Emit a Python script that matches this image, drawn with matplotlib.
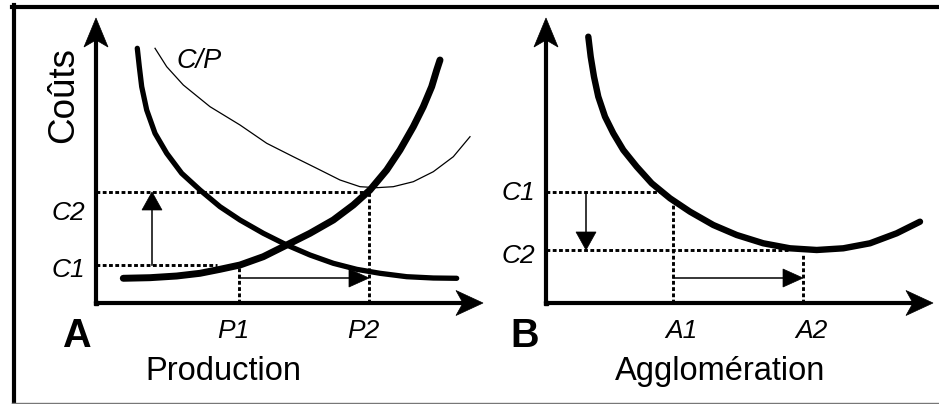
import matplotlib
matplotlib.use("Agg")
import matplotlib.pyplot as plt
from matplotlib.patches import Polygon
from matplotlib.lines import Line2D
import matplotlib.transforms as mtransforms

plt.rcParams['font.family'] = ['Liberation Sans', 'DejaVu Sans']

# ---------------- data (arbitrary units, axes span 0..100) ----------------
# Panel A : production
a_fall_x = [10.67, 11.19, 11.81, 13.10, 15.25, 18.27, 22.14, 26.87, 32.04, 37.21,
            43.23, 49.28, 55.30, 61.32, 67.36, 73.39, 80.28, 87.16, 93.20]
a_fall_y = [89.37, 82.91, 75.90, 67.72, 59.54, 52.53, 45.51, 39.65, 33.79, 29.12,
            24.46, 20.35, 16.84, 13.93, 11.82, 10.42, 9.23, 8.77, 8.67]
a_rise_x = [7.05, 13.95, 20.85, 26.87, 32.04, 37.21, 43.23, 49.28, 55.30, 61.32,
            66.49, 70.80, 75.12, 78.55, 81.99, 84.57, 86.74, 88.04, 88.89]
a_rise_y = [8.67, 8.88, 9.47, 10.42, 11.82, 13.33, 16.25, 20.35, 24.46, 29.12,
            34.39, 39.65, 46.67, 53.68, 61.86, 68.88, 75.90, 81.75, 85.26]
a_cp_x = [15.25, 18.27, 22.56, 29.46, 37.21, 44.11, 50.98, 57.03, 63.05, 68.22,
          72.53, 76.82, 81.99, 87.16, 92.33, 96.64]
a_cp_y = [89.37, 82.91, 76.49, 68.88, 62.46, 56.04, 51.33, 47.26, 43.16, 40.81,
          40.46, 40.81, 42.56, 46.07, 51.33, 58.35]
a_levels = {'C1': 13.33, 'C2': 38.95, 'P1': 36.95, 'P2': 70.54}
a_c1_end = 31.27      # C1 guide meets rising curve
a_p1_end = 12.63      # P1 guide meets rising curve

# Panel B : agglomeration
b_x = [10.93, 11.55, 12.40, 13.51, 15.25, 17.39, 19.97, 23.44, 27.31, 32.04,
       37.21, 43.23, 49.28, 56.15, 63.05, 69.95, 76.82, 83.72, 90.62, 96.64]
b_y = [93.44, 86.42, 79.40, 72.39, 65.37, 59.54, 53.68, 47.83, 42.00, 36.74,
       32.04, 27.37, 23.86, 20.95, 19.19, 18.60, 19.19, 20.95, 24.46, 28.53]
b_levels = {'C1': 38.95, 'C2': 18.60, 'A1': 32.82, 'A2': 66.41}
b_c1_end = 30.75
b_a1_end = 36.14
b_c2_end = 63.05
b_a2_end = 17.50

shift_y = 8.77        # height of horizontal shift arrows

# ---------------- figure ----------------
W, H = 939, 404
fig = plt.figure(figsize=(W / 100, H / 100), dpi=100)


def make_ax(left_px):
    ax = fig.add_axes([left_px / W, (H - 303) / H, 387 / W, 285 / H])
    ax.set_xlim(0, 100)
    ax.set_ylim(0, 100)
    ax.axis('off')
    return ax


def head(ax, x, y, direction, L, Wd, notch=0.0):
    """Filled arrow head (sizes in pixels at 100 dpi), tip at data (x, y)."""
    L, Wd, notch = L / 100.0, Wd / 100.0, notch / 100.0
    if direction == 'right':
        pts = [(0, 0), (-L, Wd / 2), (-L + notch, 0), (-L, -Wd / 2)]
    elif direction == 'up':
        pts = [(0, 0), (Wd / 2, -L), (0, -L + notch), (-Wd / 2, -L)]
    else:  # down
        pts = [(0, 0), (Wd / 2, L), (0, L - notch), (-Wd / 2, L)]
    tr = fig.dpi_scale_trans + mtransforms.ScaledTranslation(x, y, ax.transData)
    ax.add_patch(Polygon(pts, closed=True, facecolor='black', edgecolor='black',
                         lw=0.5, transform=tr, clip_on=False))


dot = dict(color='black', lw=2.1, linestyle=(0, (1.3, 0.85)), clip_on=False,
           dash_capstyle='butt')
lab = dict(fontsize=19, style='italic', color='black')


def axes_arrows(ax):
    ax.plot([0, 97], [0, 0], color='black', lw=3.0, clip_on=False,
            solid_capstyle='butt')
    ax.plot([0, 0], [0, 96], color='black', lw=3.0, clip_on=False,
            solid_capstyle='butt')
    ax.plot([0], [0], 's', color='black', ms=2.2, clip_on=False)
    head(ax, 100, 0, 'right', 27, 25, 7)
    head(ax, 0, 100, 'up', 29, 24, 7)


# ---- panel A ----
axA = make_ax(96)
axes_arrows(axA)
axA.plot(a_cp_x, a_cp_y, color='black', lw=0.9, clip_on=False,
         solid_joinstyle='round')
axA.plot(a_fall_x, a_fall_y, color='black', lw=3.8, clip_on=False,
         solid_capstyle='round', solid_joinstyle='round')
axA.plot(a_rise_x, a_rise_y, color='black', lw=5.0, clip_on=False,
         solid_capstyle='round', solid_joinstyle='round')
axA.plot([0, a_levels['P2']], [a_levels['C2']] * 2, **dot)
axA.plot([a_levels['P2']] * 2, [0, a_levels['C2']], **dot)
axA.plot([0, a_c1_end], [a_levels['C1']] * 2, **dot)
axA.plot([a_levels['P1']] * 2, [0, a_p1_end], **dot)
# vertical cost shift arrow
ux = 14.47
axA.plot([ux, ux], [a_levels['C1'], a_levels['C2'] - 5], color='black', lw=1.1)
head(axA, ux, a_levels['C2'], 'up', 18, 20)
# horizontal production shift arrow
axA.plot([a_levels['P1'], a_levels['P2'] - 4], [shift_y] * 2, color='black', lw=1.1)
head(axA, a_levels['P2'], shift_y, 'right', 20, 18)

axA.text(20.9, 84.9, 'C/P', ha='left', va='center', fontsize=19.5, style='italic')
axA.text(-2.84, 29.12, 'C2', ha='right', va='baseline', **lab)
axA.text(-2.84, 9.12, 'C1', ha='right', va='baseline', **lab)
axA.text(35.4, -12.28, 'P1', ha='center', va='baseline', **lab)
axA.text(69.0, -12.28, 'P2', ha='center', va='baseline', **lab)
axA.text(-5.17, -15.44, 'A', ha='center', va='baseline', fontsize=28.5, weight='bold')
axA.text(32.8, -27.0, 'Production', ha='center', va='baseline', fontsize=23.5)
axA.text(-5.94, 56.1, 'Coûts', ha='left', va='baseline', rotation=90,
         rotation_mode='anchor', fontsize=26.5)

# ---- panel B ----
axB = make_ax(546)
axes_arrows(axB)
axB.plot(b_x, b_y, color='black', lw=4.6, clip_on=False,
         solid_capstyle='round', solid_joinstyle='round')
axB.plot([0, b_c1_end], [b_levels['C1']] * 2, **dot)
axB.plot([b_levels['A1']] * 2, [0, b_a1_end], **dot)
axB.plot([0, b_c2_end], [b_levels['C2']] * 2, **dot)
axB.plot([b_levels['A2']] * 2, [0, b_a2_end], **dot)
dx = 10.34
axB.plot([dx, dx], [b_levels['C1'], b_levels['C2'] + 5], color='black', lw=1.1)
head(axB, dx, b_levels['C2'], 'down', 18, 20)
axB.plot([b_levels['A1'], b_levels['A2'] - 4], [shift_y] * 2, color='black', lw=1.1)
head(axB, b_levels['A2'], shift_y, 'right', 20, 18)

axB.text(-2.84, 36.14, 'C1', ha='right', va='baseline', **lab)
axB.text(-2.84, 14.04, 'C2', ha='right', va='baseline', **lab)
axB.text(34.98, -12.28, 'A1', ha='center', va='baseline', **lab)
axB.text(68.7, -12.28, 'A2', ha='center', va='baseline', **lab)
axB.text(-5.43, -15.44, 'B', ha='center', va='baseline', fontsize=28.5, weight='bold')
axB.text(44.96, -27.0, 'Agglomération', ha='center', va='baseline', fontsize=23.5)

# ---- outer frame ----
fig.add_artist(Line2D([12 / W, 1.0], [1 - 7 / H] * 2, color='black', lw=3.0))
fig.add_artist(Line2D([13.5 / W] * 2, [0, 1 - 5 / H], color='black', lw=3.0))
fig.add_artist(Line2D([12 / W, 1.0], [1.5 / H] * 2, color='#777777', lw=1.0))

fig.savefig('out.png', dpi=100)
